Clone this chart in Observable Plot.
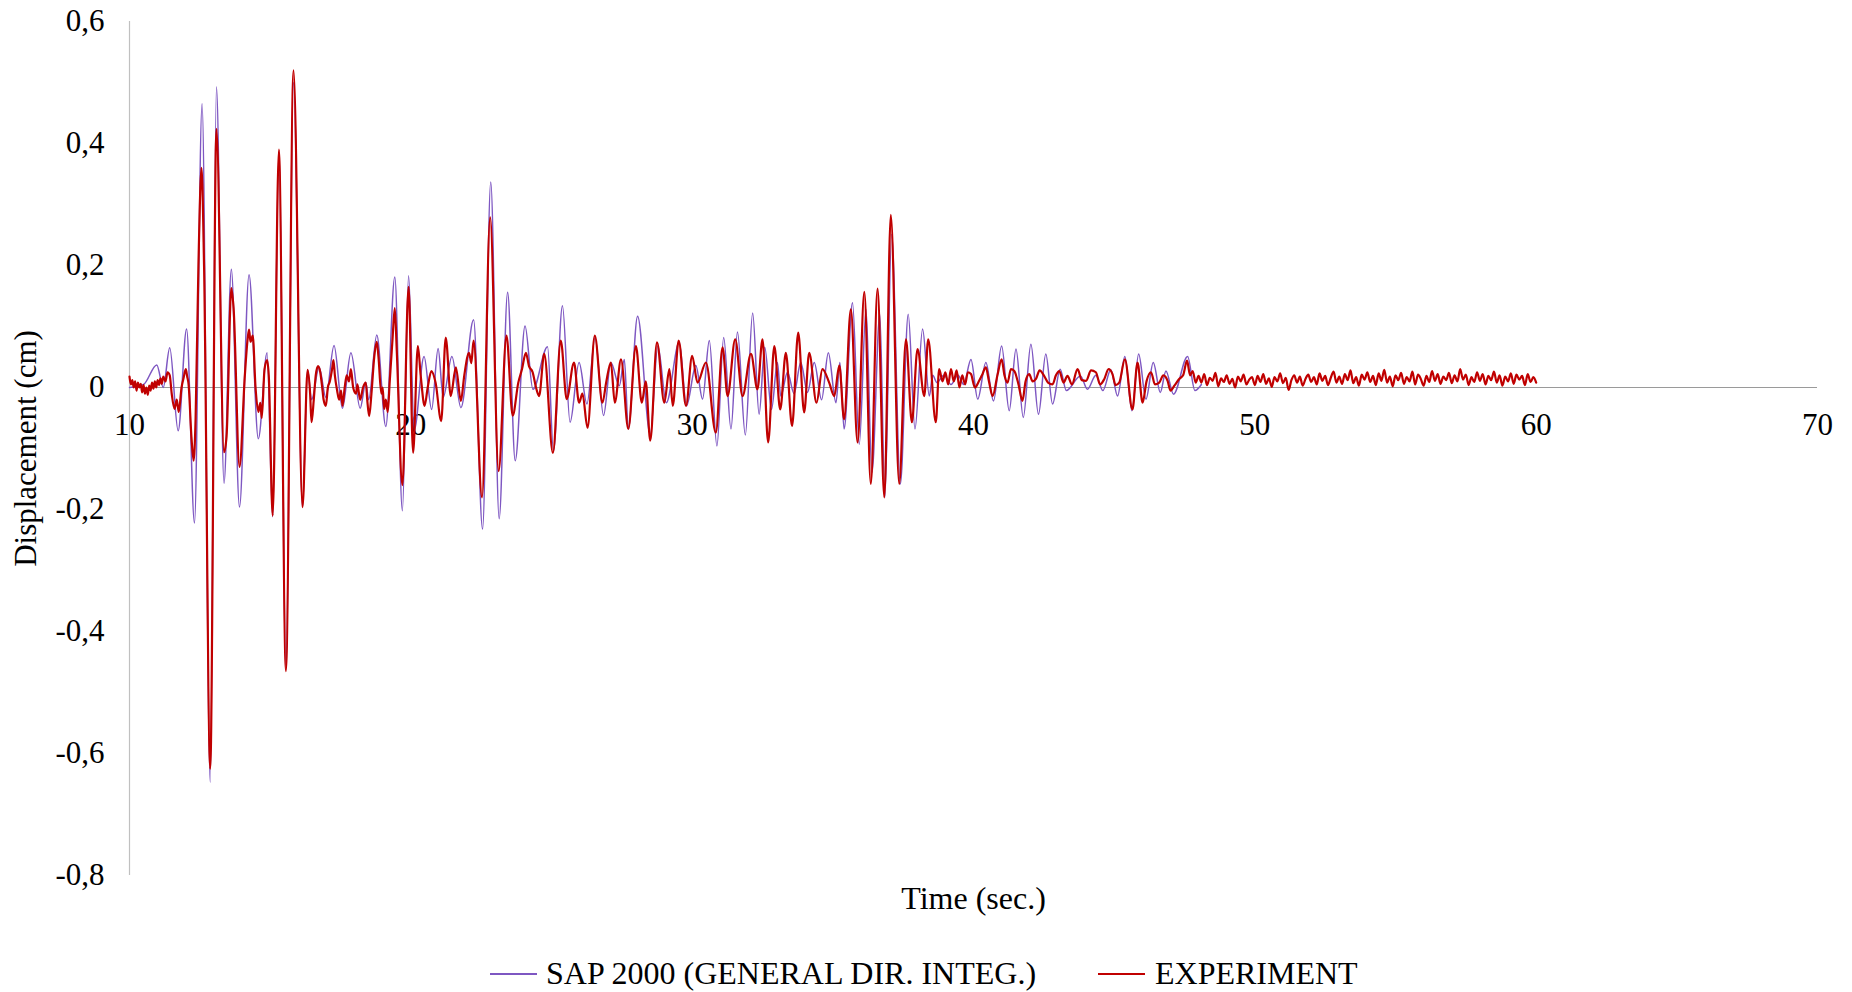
<!DOCTYPE html>
<html>
<head>
<meta charset="utf-8">
<script src="https://cdn.jsdelivr.net/npm/d3@7"></script>
<script src="https://cdn.jsdelivr.net/npm/@observablehq/plot@0.6"></script>
<style>
  html, body { margin: 0; padding: 0; background: #fff; }
  body { width: 1852px; height: 992px; overflow: hidden; font-family: "Liberation Serif", "Times New Roman", serif; }
  #legend { position: relative; width: 1852px; height: 52px; font-size: 32px; color: #000; }
  #legend .item { position: absolute; top: 16px; line-height: 34px; white-space: nowrap; }
  #legend .sw { position: absolute; top: 33px; width: 47px; height: 2px; }
</style>
</head>
<body>
<div id="chart"></div>
<div id="legend"></div>
<script>
// ---- data ----
const seriesNames = ["SAP 2000 (GENERAL DIR. INTEG.)", "EXPERIMENT"];
const seriesColors = ["#7E57C2", "#C00000"];

const xTicks = [10, 20, 30, 40, 50, 60, 70];
const yTicks = [0.6, 0.4, 0.2, 0, -0.2, -0.4, -0.6, -0.8];
const yTickLabels = ["0,6", "0,4", "0,2", "0", "-0,2", "-0,4", "-0,6", "-0,8"];

// SAP 2000 (smooth numerical response) : extrema
const sapTime = [10.0, 10.5, 10.97, 11.2, 11.43, 11.73, 12.03, 12.31, 12.58, 12.87, 13.09, 13.36, 13.62, 13.91, 14.25, 14.58, 14.89, 15.09, 15.31, 15.56, 15.83, 16.15, 16.33, 16.47, 16.74, 16.98, 17.27, 17.57, 17.87, 18.2, 18.4, 18.5, 18.79, 19.11, 19.43, 19.7, 19.92, 20.12, 20.47, 20.74, 20.97, 21.15, 21.46, 21.78, 22.23, 22.55, 22.84, 23.14, 23.44, 23.71, 24.06, 24.34, 24.86, 25.07, 25.39, 25.66, 25.98, 26.26, 26.55, 26.85, 27.11, 27.41, 27.59, 27.73, 28.06, 28.51, 28.78, 29.08, 29.54, 29.8, 30.13, 30.37, 30.61, 30.88, 31.12, 31.38, 31.61, 31.89, 32.15, 32.38, 32.58, 32.82, 33.03, 33.15, 33.39, 33.62, 33.86, 34.1, 34.34, 34.6, 34.84, 35.11, 35.25, 35.4, 35.7, 35.94, 36.18, 36.39, 36.67, 36.85, 37.09, 37.4, 37.68, 37.92, 38.19, 38.43, 38.55, 38.7, 38.95, 39.2, 39.45, 39.65, 39.91, 40.15, 40.44, 40.71, 41.0, 41.27, 41.51, 41.77, 42.04, 42.31, 42.57, 42.81, 43.08, 43.3, 43.8, 44.05, 44.35, 44.6, 44.88, 45.12, 45.38, 45.63, 45.87, 46.13, 46.39, 46.64, 46.84, 47.11, 47.61, 47.87, 48.1];
const sapDisp = [0.0, 0.005, 0.037, 0.0, 0.065, -0.071, 0.096, -0.222, 0.465, -0.647, 0.493, -0.157, 0.194, -0.196, 0.185, -0.084, 0.057, -0.212, 0.387, -0.455, 0.5, -0.196, 0.029, -0.02, 0.033, -0.016, 0.069, -0.034, 0.057, -0.034, 0.008, -0.02, 0.086, -0.064, 0.181, -0.202, 0.183, -0.07, 0.051, -0.036, 0.064, -0.016, 0.051, -0.033, 0.111, -0.232, 0.337, -0.215, 0.156, -0.12, 0.101, -0.003, 0.067, -0.104, 0.134, -0.057, 0.041, -0.027, 0.082, -0.046, 0.041, 0.003, 0.046, -0.068, 0.117, -0.077, 0.068, -0.025, 0.074, -0.03, 0.036, -0.019, 0.077, -0.096, 0.082, -0.068, 0.091, -0.078, 0.122, -0.044, 0.066, -0.036, 0.041, -0.014, 0.025, -0.01, 0.041, -0.008, 0.041, -0.02, 0.057, -0.025, 0.041, -0.068, 0.139, -0.093, 0.128, -0.139, 0.12, -0.18, 0.251, -0.158, 0.12, -0.068, 0.096, -0.014, 0.02, 0.008, 0.02, 0.005, 0.02, 0.005, 0.046, -0.019, 0.041, -0.022, 0.068, -0.038, 0.063, -0.049, 0.071, -0.044, 0.055, -0.027, 0.03, -0.005, 0.019, -0.003, 0.02, -0.005, 0.029, -0.014, 0.051, -0.038, 0.055, -0.019, 0.041, -0.008, 0.027, -0.011, 0.051, -0.005, 0.005];

const expTime = [10.0, 10.05, 10.1, 10.15, 10.2, 10.25, 10.3, 10.35, 10.4, 10.45, 10.5, 10.55, 10.6, 10.65, 10.7, 10.75, 10.8, 10.85, 10.9, 10.95, 11.0, 11.05, 11.1, 11.15, 11.2, 11.28, 11.35, 11.43, 11.5, 11.6, 11.68, 11.75, 11.85, 11.92, 12.0, 12.05, 12.1, 12.2, 12.28, 12.35, 12.45, 12.56, 12.65, 12.87, 13.09, 13.36, 13.45, 13.62, 13.7, 13.91, 14.1, 14.2, 14.25, 14.3, 14.38, 14.48, 14.58, 14.65, 14.7, 14.8, 14.89, 14.95, 15.09, 15.31, 15.56, 15.83, 16.15, 16.33, 16.42, 16.47, 16.55, 16.62, 16.7, 16.78, 16.85, 16.9, 16.98, 17.05, 17.12, 17.2, 17.25, 17.3, 17.38, 17.45, 17.52, 17.57, 17.65, 17.72, 17.8, 17.87, 17.95, 18.05, 18.1, 18.2, 18.3, 18.4, 18.45, 18.52, 18.6, 18.7, 18.79, 18.85, 18.95, 19.0, 19.05, 19.11, 19.18, 19.25, 19.35, 19.43, 19.5, 19.7, 19.92, 20.08, 20.25, 20.35, 20.49, 20.6, 20.73, 20.88, 21.08, 21.24, 21.42, 21.6, 21.78, 21.9, 22.07, 22.15, 22.23, 22.53, 22.82, 23.12, 23.4, 23.62, 23.82, 23.95, 24.09, 24.2, 24.33, 24.45, 24.56, 24.74, 25.05, 25.33, 25.54, 25.8, 25.98, 26.1, 26.28, 26.54, 26.81, 26.95, 27.11, 27.25, 27.47, 27.73, 28.0, 28.21, 28.35, 28.51, 28.75, 29.01, 29.19, 29.31, 29.52, 29.78, 30.0, 30.19, 30.49, 30.84, 31.08, 31.26, 31.53, 31.79, 32.09, 32.32, 32.5, 32.7, 32.92, 33.13, 33.33, 33.55, 33.77, 33.98, 34.16, 34.42, 34.63, 34.87, 35.05, 35.23, 35.4, 35.64, 35.88, 36.12, 36.35, 36.59, 36.83, 37.06, 37.36, 37.6, 37.81, 38.01, 38.25, 38.39, 38.66, 38.78, 38.9, 39.0, 39.1, 39.2, 39.3, 39.4, 39.5, 39.6, 39.7, 39.8, 39.91, 40.05, 40.2, 40.3, 40.44, 40.55, 40.68, 40.85, 41.0, 41.1, 41.21, 41.33, 41.45, 41.6, 41.74, 41.85, 41.98, 42.1, 42.22, 42.35, 42.51, 42.65, 42.81, 42.93, 43.05, 43.2, 43.34, 43.5, 43.7, 43.85, 44.0, 44.18, 44.35, 44.5, 44.65, 44.8, 44.94, 45.05, 45.18, 45.38, 45.65, 45.83, 46.01, 46.15, 46.31, 46.45, 46.6, 46.75, 46.9, 47.0, 47.14, 47.31, 47.45, 47.59, 47.7, 47.79, 47.9];
const expDisp = [0.018, 0.005, 0.012, 0.0, 0.01, -0.005, 0.008, 0.0, 0.006, -0.008, 0.004, -0.01, 0.0, -0.012, 0.003, -0.005, 0.008, -0.002, 0.01, 0.0, 0.012, 0.004, 0.015, 0.006, 0.018, 0.01, 0.025, 0.02, -0.01, -0.035, -0.02, -0.04, 0.0, 0.015, 0.03, 0.018, 0.005, -0.08, -0.12, -0.05, 0.2, 0.36, 0.2, -0.625, 0.424, -0.106, -0.08, 0.163, 0.13, -0.13, 0.02, 0.08, 0.095, 0.075, 0.085, 0.0, -0.04, -0.025, -0.05, 0.03, 0.045, 0.02, -0.21, 0.39, -0.465, 0.52, -0.196, 0.029, -0.01, -0.057, -0.02, 0.02, 0.035, 0.025, 0.0, -0.02, -0.03, 0.0, 0.01, 0.03, 0.045, 0.02, -0.005, -0.02, -0.005, -0.03, 0.0, 0.02, 0.01, 0.03, 0.0, -0.01, 0.005, -0.02, 0.0, 0.008, -0.02, -0.047, -0.01, 0.05, 0.075, 0.05, -0.01, 0.0, -0.035, -0.02, -0.04, 0.01, 0.08, 0.13, 0.06, -0.16, 0.165, -0.107, 0.068, 0.02, -0.03, 0.0, 0.027, 0.008, -0.055, 0.082, -0.014, 0.033, -0.022, 0.02, 0.057, 0.04, 0.077, -0.18, 0.279, -0.137, 0.085, -0.046, 0.008, 0.03, 0.057, 0.035, 0.025, 0.0, -0.014, 0.055, -0.107, 0.077, -0.019, 0.041, -0.025, -0.01, -0.066, 0.085, -0.025, 0.01, 0.041, -0.025, 0.046, -0.068, 0.068, -0.025, 0.01, -0.087, 0.074, -0.025, 0.03, -0.03, 0.077, -0.03, 0.052, 0.008, 0.041, -0.074, 0.066, -0.014, 0.079, -0.014, 0.055, -0.003, 0.079, -0.09, 0.068, -0.036, 0.057, -0.063, 0.09, -0.041, 0.057, -0.025, 0.03, 0.008, -0.014, 0.036, -0.052, 0.128, -0.09, 0.157, -0.158, 0.162, -0.18, 0.283, -0.158, 0.079, -0.057, 0.063, -0.014, 0.079, -0.057, 0.03, 0.01, 0.025, 0.005, 0.03, 0.01, 0.028, 0.0, 0.02, 0.005, 0.025, 0.022, 0.0, 0.011, 0.02, 0.033, 0.01, -0.014, 0.02, 0.046, 0.02, 0.008, 0.03, 0.027, 0.005, -0.022, 0.01, 0.022, 0.01, 0.014, 0.028, 0.019, 0.008, 0.005, 0.02, 0.027, 0.008, 0.019, 0.005, 0.03, 0.012, 0.011, 0.028, 0.025, 0.005, 0.014, 0.03, 0.022, 0.004, 0.008, 0.046, -0.036, 0.041, -0.025, 0.01, 0.025, 0.005, 0.008, 0.02, 0.011, -0.005, 0.003, 0.014, 0.02, 0.044, 0.02, 0.027, 0.008];

// EXPERIMENT tail, 48 s to 60 s, sampled every 0.1 s (values read as a noise band)
const expTailStart = 48.0;
const expTailStep = 0.1;
const expTailDisp = [
  0.019, 0.008, 0.022, 0.004, 0.016, 0.011, 0.024, 0.002, 0.015, 0.009,
  0.02, 0.006, 0.014, 0.0, 0.018, 0.01, 0.021, 0.005, 0.013, 0.017,
  0.004, 0.019, 0.009, 0.022, 0.006, 0.015, 0.001, 0.017, 0.01, 0.023,
  0.007, 0.016, -0.004, 0.012, 0.02, 0.008, 0.018, 0.003, 0.014, 0.021,
  0.009, 0.017, 0.005, 0.023, 0.011, 0.019, 0.004, 0.016, 0.026, 0.008,
  0.018, 0.006, 0.022, 0.012, 0.028, 0.007, 0.017, 0.003, 0.021, 0.013,
  0.025, 0.009, 0.019, 0.004, 0.023, 0.011, 0.029, 0.008, 0.018, 0.002,
  0.02, 0.012, 0.024, 0.006, 0.017, 0.01, 0.026, 0.005, 0.021, 0.014,
  0.003, 0.019, 0.009, 0.027, 0.011, 0.022, 0.006, 0.018, 0.012, 0.024,
  0.007, 0.02, 0.01, 0.03, 0.013, 0.021, 0.004, 0.017, 0.009, 0.025,
  0.011, 0.022, 0.005, 0.019, 0.012, 0.026, 0.008, 0.02, 0.003, 0.018,
  0.01, 0.023, 0.006, 0.021, 0.013, 0.019, 0.004, 0.022, 0.009, 0.017,
  0.008
];

// ---- build tables ----
const sap = sapTime.map((t, i) => ({t, v: sapDisp[i]}));
const exp = expTime.map((t, i) => ({t, v: expDisp[i]}))
  .concat(expTailDisp.map((v, i) => ({t: +(expTailStart + i * expTailStep).toFixed(2), v})));

const W = 1852, H = 940;
const FONT = '"Liberation Serif", "Times New Roman", serif';
const FS = 31;

const chart = Plot.plot({
  width: W,
  height: H,
  marginLeft: 129,
  marginRight: 35,
  marginTop: 21,
  marginBottom: 65,
  style: {fontFamily: FONT, fontSize: FS + "px", color: "#000", background: "#fff"},
  x: {domain: [10, 70], axis: null},
  y: {domain: [-0.8, 0.6], axis: null},
  marks: [
    Plot.ruleX([10], {stroke: "#c0c0c0", strokeWidth: 1.2}),
    Plot.ruleY([0], {stroke: "#9a9a9a", strokeWidth: 1.2}),
    Plot.axisY(yTicks, {
      tickSize: 0, tickPadding: 25, fontSize: FS,
      tickFormat: (d) => yTickLabels[yTicks.indexOf(d)],
      label: "Displacement (cm)", labelAnchor: "center", labelOffset: 116, labelArrow: "none"
    }),
    Plot.text(xTicks, {x: (d) => d, y: 0, dy: 38, text: (d) => String(d), fontSize: FS, fill: "#000"}),
    Plot.line(sap, {x: "t", y: "v", stroke: seriesColors[0], strokeWidth: 1.5, curve: "monotone-x"}),
    Plot.line(exp, {x: "t", y: "v", stroke: seriesColors[1], strokeWidth: 2.2, curve: "monotone-x"}),
    Plot.text(["Time (sec.)"], {frameAnchor: "bottom", dy: 33, fontSize: FS + 1, fill: "#000"})
  ]
});
document.getElementById("chart").appendChild(chart);

// ---- legend (HTML, below the SVG) ----
const legend = document.getElementById("legend");
const legendPos = [{sw: 490, text: 546}, {sw: 1098, text: 1155}];
seriesNames.forEach((name, i) => {
  const sw = document.createElement("span");
  sw.className = "sw";
  sw.style.left = legendPos[i].sw + "px";
  sw.style.background = seriesColors[i];
  legend.appendChild(sw);
  const tx = document.createElement("span");
  tx.className = "item";
  tx.style.left = legendPos[i].text + "px";
  tx.textContent = name;
  legend.appendChild(tx);
});
</script>
</body>
</html>
